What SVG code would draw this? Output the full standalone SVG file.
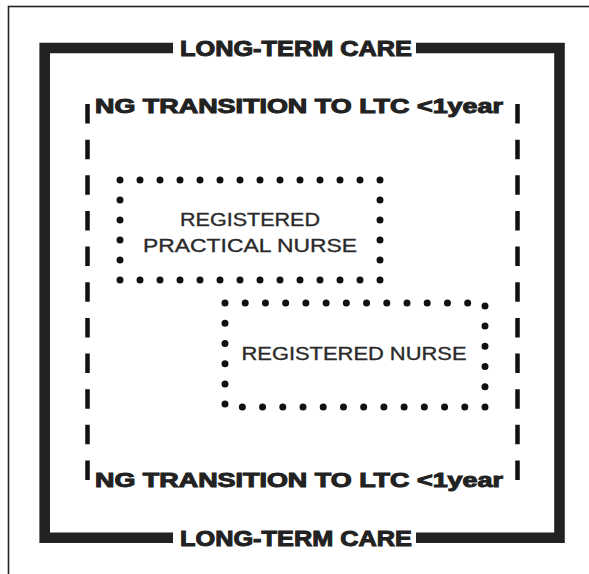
<svg xmlns="http://www.w3.org/2000/svg" width="589" height="574" viewBox="0 0 589 574">
<style>
.bold{font-family:"Liberation Sans",Arial,sans-serif;font-weight:bold;fill:#222;stroke:#222;stroke-width:1;text-anchor:middle}
.reg{font-family:"Liberation Sans",Arial,sans-serif;font-size:19px;fill:#2a2a2a;stroke:#2a2a2a;stroke-width:0.35;text-anchor:middle}
.dots{fill:none;stroke:#111;stroke-width:7;stroke-linecap:round}
.dash{fill:none;stroke:#111;stroke-width:4.5;stroke-dasharray:19.5 16.15}
</style>
<rect x="8.5" y="6.5" width="620" height="620" fill="#fff" stroke="#222" stroke-width="1.6"/>
<g id="ltc">
<path d="M173,48 H44.7 V537.7 H173 M416,537.7 H559.5 V48 H416" fill="none" stroke="#222" stroke-width="10.6"/>
<text class="bold" x="296" y="56" font-size="21.5" textLength="232" lengthAdjust="spacingAndGlyphs">LONG-TERM CARE</text>
<text class="bold" x="296" y="545.5" font-size="21.5" textLength="232" lengthAdjust="spacingAndGlyphs">LONG-TERM CARE</text>
</g>
<g id="ng">
<path class="dash" d="M87.5,104 V480 M517.5,104 V480"/>
<text class="bold" x="299" y="112.5" font-size="19.5" textLength="408" lengthAdjust="spacingAndGlyphs">NG TRANSITION TO LTC &lt;1year</text>
<text class="bold" x="299" y="487" font-size="19.5" textLength="408" lengthAdjust="spacingAndGlyphs">NG TRANSITION TO LTC &lt;1year</text>
</g>
<g id="rpn">
<rect class="dots" x="120" y="180" width="260" height="100" stroke-dasharray="0 20"/>
<text class="reg" x="250" y="226" textLength="140" lengthAdjust="spacingAndGlyphs">REGISTERED</text>
<text class="reg" x="250" y="251.5" textLength="214" lengthAdjust="spacingAndGlyphs">PRACTICAL NURSE</text>
</g>
<g id="rn">
<rect class="dots" x="225" y="303" width="260" height="104" stroke-dasharray="0 20.222"/>
<text class="reg" x="354" y="360" textLength="225" lengthAdjust="spacingAndGlyphs">REGISTERED NURSE</text>
</g>
</svg>
